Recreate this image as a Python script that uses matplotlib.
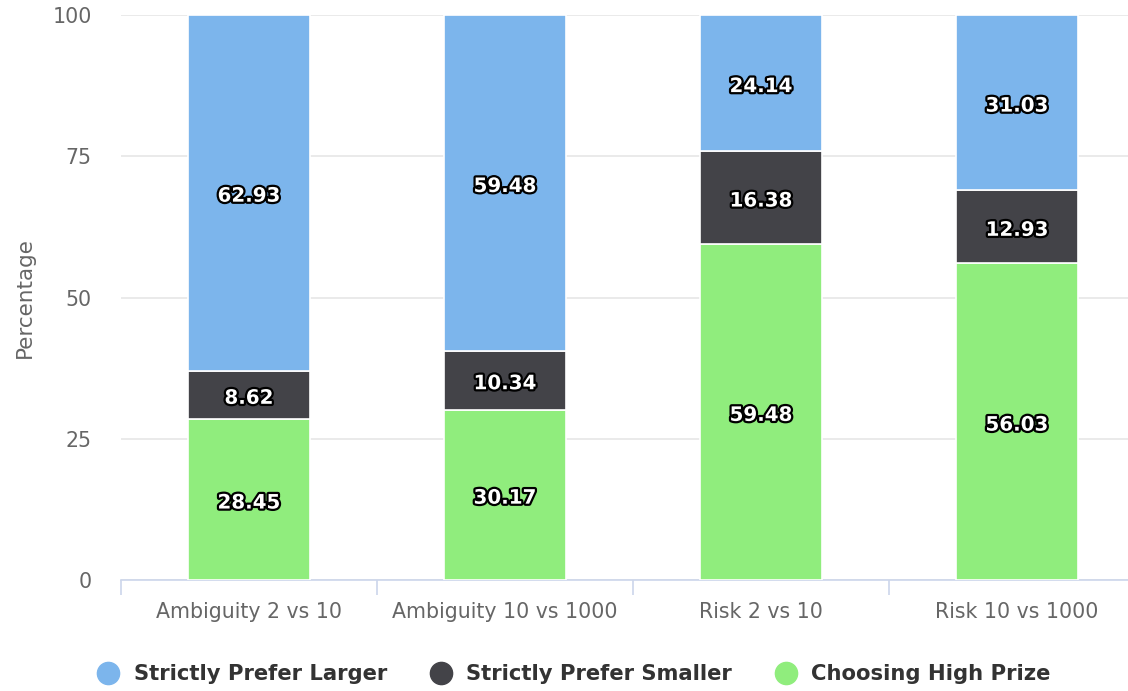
import matplotlib.pyplot as plt
import matplotlib.patheffects as pe
from matplotlib.lines import Line2D
import numpy as np

categories = ["Ambiguity 2 vs 10", "Ambiguity 10 vs 1000", "Risk 2 vs 10", "Risk 10 vs 1000"]
series_names = ["Strictly Prefer Larger", "Strictly Prefer Smaller", "Choosing High Prize"]
larger = [62.93, 59.48, 24.14, 31.03]
smaller = [8.62, 10.34, 16.38, 12.93]
high_prize = [28.45, 30.17, 59.48, 56.03]
y_ticks = [0, 25, 50, 75, 100]

colors = ["#7cb5ec", "#434348", "#90ed7d"]

plt.rcParams['font.family'] = ['DejaVu Sans']

fig = plt.figure(figsize=(11.28, 6.91), dpi=100)
ax = fig.add_axes([121 / 1128, 111 / 691, 1024 / 1128, 565 / 691])

x = np.arange(len(categories))
w = 0.477

# stack from the bottom up: high prize, smaller, larger
stack = [(high_prize, colors[2]), (smaller, colors[1]), (larger, colors[0])]
bottom = np.zeros(len(categories))
outline = [pe.Stroke(linewidth=3.2, foreground="black"), pe.Normal()]
for vals, col in stack:
    vals = np.array(vals)
    ax.bar(x, vals, w, bottom=bottom, color=col, edgecolor="white", linewidth=1.2, zorder=3)
    for xi, b, v in zip(x, bottom, vals):
        ax.text(xi, b + v / 2 - 0.6, f"{v:.2f}", ha="center", va="center", color="white",
                fontsize=14.3, fontweight="bold", path_effects=outline, zorder=5)
    bottom += vals

ax.set_xlim(-0.5, len(categories) - 0.5)
ax.set_ylim(0, 100)
ax.set_yticks(y_ticks)
ax.set_yticklabels([str(t) for t in y_ticks], color="#666666", fontsize=14.8)
ax.yaxis.grid(True, color="#e6e6e6", linewidth=1.2, zorder=0)
ax.tick_params(axis="y", length=0, pad=21)

ax.set_xticks(x)
ax.set_xticklabels(categories, color="#666666", fontsize=14.8)
ax.set_xticks(np.arange(len(categories) + 1) - 0.5, minor=True)
ax.tick_params(axis="x", which="major", length=0, pad=16)
ax.tick_params(axis="x", which="minor", length=11, color="#ccd6eb", width=1.2)

for s in ["top", "right", "left"]:
    ax.spines[s].set_visible(False)
ax.spines["bottom"].set_color("#ccd6eb")
ax.spines["bottom"].set_linewidth(1.2)

ax.set_ylabel("Percentage", color="#666666", fontsize=15.5, labelpad=13)

handles = [Line2D([], [], marker="o", linestyle="", markersize=16, color=c) for c in colors]
leg = fig.legend(handles, series_names, loc="center", bbox_to_anchor=(574 / 1128, 1 - 674 / 691),
                 ncol=3, frameon=False, handlelength=1.0, handletextpad=0.7, columnspacing=2.05,
                 prop={"weight": "bold", "size": 15.2})
for t in leg.get_texts():
    t.set_color("#333333")

plt.savefig("out.png", dpi=100)
